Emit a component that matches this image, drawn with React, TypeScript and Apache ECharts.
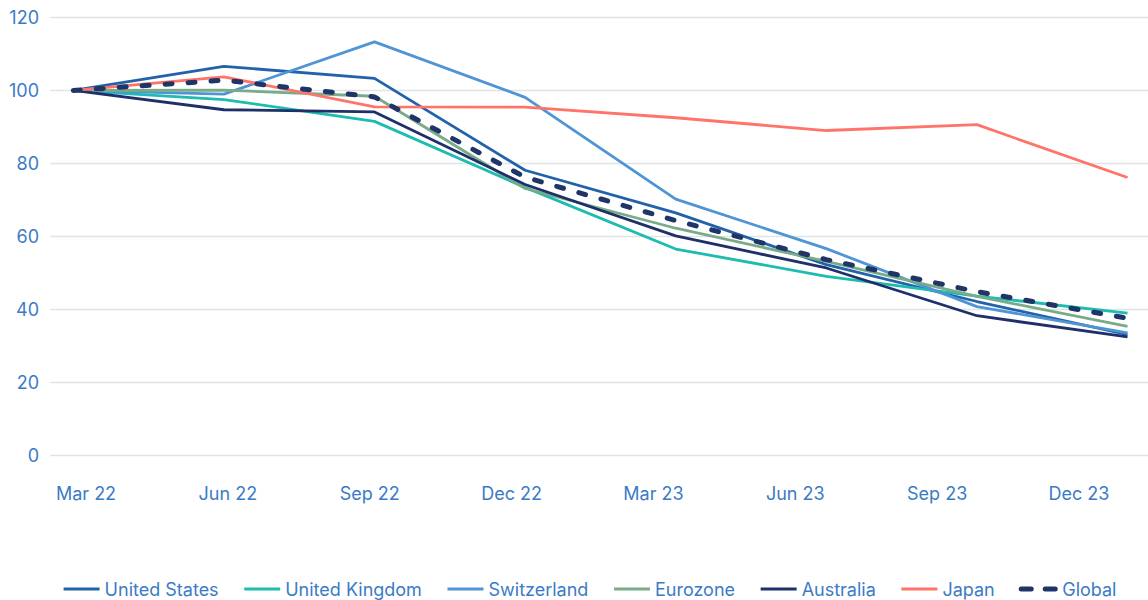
import React, { useEffect, useRef } from "react";
import * as echarts from "echarts";

const categories = ["Mar 22", "Jun 22", "Sep 22", "Dec 22", "Mar 23", "Jun 23", "Sep 23", "Dec 23"];

const unitedStates = [100, 106.6, 103.3, 78.1, 66.4, 52.2, 42.1, 33.0];
const unitedKingdom = [100, 97.5, 91.5, 73.4, 56.5, 49.0, 43.6, 38.9];
const switzerland = [100, 99.0, 113.3, 98.1, 70.2, 56.6, 40.7, 33.5];
const eurozone = [100, 100.1, 98.4, 73.1, 62.2, 53.1, 43.5, 35.3];
const australia = [100, 94.7, 94.1, 74.2, 60.1, 51.3, 38.2, 32.4];
const japan = [100, 103.7, 95.5, 95.4, 92.5, 89.0, 90.6, 76.1];
const globalIdx = [100, 102.8, 98.2, 76.2, 64.3, 53.6, 44.8, 37.5];

const yTicks = { min: 0, max: 120, interval: 20 };

const seriesDefs = [
  { name: "United States", data: unitedStates, color: "#2162ab", width: 2.8 },
  { name: "United Kingdom", data: unitedKingdom, color: "#1cbcb1", width: 2.8 },
  { name: "Switzerland", data: switzerland, color: "#4f95d5", width: 2.8 },
  { name: "Eurozone", data: eurozone, color: "#78ab88", width: 2.8 },
  { name: "Australia", data: australia, color: "#1e2f6a", width: 2.8 },
  { name: "Japan", data: japan, color: "#ff7368", width: 2.8 },
];

const LABEL = "#3b7bc6";
const FONT = "Inter";

export default function App() {
  const ref = useRef<HTMLDivElement>(null);
  useEffect(() => {
    if (!ref.current) return;
    const chart = echarts.init(ref.current, null, { renderer: "svg" });
    const series: any[] = seriesDefs.map((s) => ({
      name: s.name,
      type: "line",
      xAxisIndex: 0,
      yAxisIndex: 0,
      symbol: "none",
      data: s.data.map((v, i) => [i, v]),
      lineStyle: { color: s.color, width: s.width },
      itemStyle: { color: s.color },
    }));
    series.push({
      name: "Global",
      type: "line",
      xAxisIndex: 0,
      yAxisIndex: 0,
      symbol: "none",
      data: globalIdx.map((v, i) => [i, v]),
      lineStyle: { color: "#1f3467", width: 5, type: [7, 16], cap: "round" },
      itemStyle: { color: "#1f3467" },
      z: 5,
    });
    chart.setOption({
      animation: false,
      backgroundColor: "#ffffff",
      textStyle: { fontFamily: FONT },
      grid: [
        { left: 50, right: 0, top: 17.5, bottom: 145 },
        { left: 86, right: 69, top: 17.5, bottom: 145 },
      ],
      xAxis: [
        { gridIndex: 0, type: "value", min: -0.1547, max: 7.136, show: false },
        {
          gridIndex: 1,
          type: "category",
          data: categories,
          boundaryGap: false,
          axisLine: { show: false },
          axisTick: { show: false },
          splitLine: { show: false },
          axisLabel: { color: LABEL, fontSize: 18, fontFamily: FONT, margin: 29 },
        },
      ],
      yAxis: [
        {
          gridIndex: 0,
          type: "value",
          min: yTicks.min,
          max: yTicks.max,
          interval: yTicks.interval,
          axisLine: { show: false },
          axisTick: { show: false },
          axisLabel: { color: LABEL, fontSize: 18, fontFamily: FONT, margin: 11 },
          splitLine: { lineStyle: { color: "#dfe5e5", width: 1.3 } },
        },
        { gridIndex: 1, type: "value", show: false, min: 0, max: 120 },
      ],
      legend: {
        left: 57,
        top: 575,
        itemWidth: 36,
        itemHeight: 14,
        itemGap: 24,
        itemStyle: { opacity: 0 },
        lineStyle: { width: 3.2 },
        textStyle: { color: LABEL, fontSize: 18, fontFamily: FONT },
        data: [
          ...seriesDefs.map((s) => ({ name: s.name })),
          { name: "Global", lineStyle: { width: 5, type: [10, 14], cap: "round" } },
        ],
      },
      series,
    });
    return () => chart.dispose();
  }, []);
  return (
    <div
      ref={ref}
      style={{ position: "fixed", left: 0, top: 0, width: 1148, height: 600, background: "#fff" }}
    />
  );
}
